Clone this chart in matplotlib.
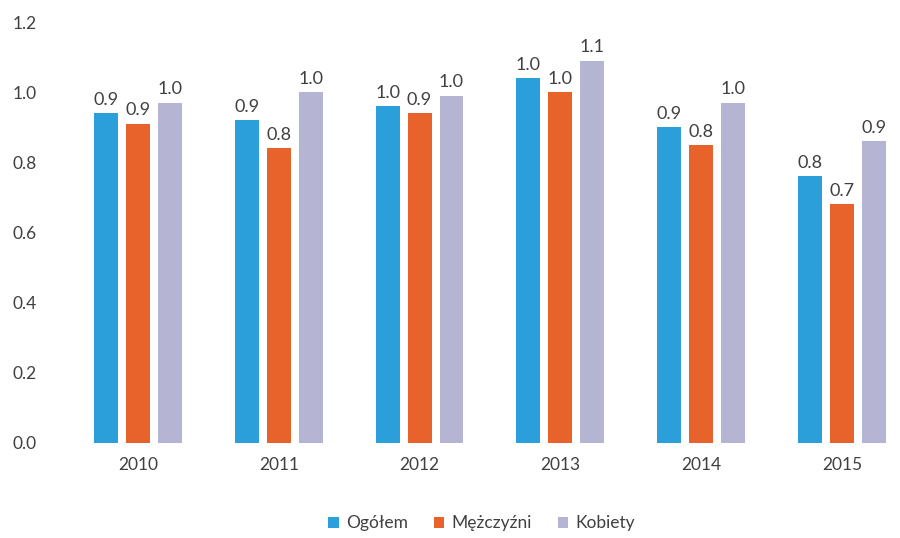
import numpy as np
import matplotlib.pyplot as plt

years = ['2010', '2011', '2012', '2013', '2014', '2015']
ogolem = [0.94, 0.92, 0.96, 1.04, 0.90, 0.76]
mezczyzni = [0.91, 0.84, 0.94, 1.00, 0.85, 0.68]
kobiety = [0.97, 1.00, 0.99, 1.09, 0.97, 0.86]
series_names = ['Ogółem', 'Mężczyźni', 'Kobiety']
colors = ['#2b9fd9', '#e8622c', '#b5b4d3']

plt.rcParams['font.family'] = ['Lato', 'DejaVu Sans']

fig = plt.figure(figsize=(9, 5.38), dpi=100)
ax = fig.add_axes([0.075, 0.177, 0.92, 0.782])

x = np.arange(len(years))
w = 0.17
step = 0.227
for i, (vals, name, c) in enumerate(zip([ogolem, mezczyzni, kobiety], series_names, colors)):
    pos = x + (i - 1) * step
    ax.bar(pos, vals, width=w, color=c, label=name)
    for p, v in zip(pos, vals):
        ax.text(p, v + 0.015, '%.1f' % v, ha='center', va='bottom',
                fontsize=13, color='#404040')

ax.set_ylim(0, 1.2)
ax.set_xlim(-0.5, 5.38)
ax.set_yticks(np.arange(0, 1.21, 0.2))
ax.set_yticklabels(['%.1f' % t for t in np.arange(0, 1.21, 0.2)])
ax.set_xticks(x)
ax.set_xticklabels(years)
ax.tick_params(length=0, labelsize=12.5, labelcolor='#404040', pad=10)
ax.tick_params(axis='y', pad=22)
for s in ax.spines.values():
    s.set_visible(False)

ax.legend(loc='upper center', bbox_to_anchor=(0.5, -0.135), ncol=3, frameon=False,
          fontsize=12.5, handlelength=0.6, handleheight=0.6, columnspacing=1.5,
          handletextpad=0.4, labelcolor='#404040')

fig.savefig('out.png', dpi=100)
